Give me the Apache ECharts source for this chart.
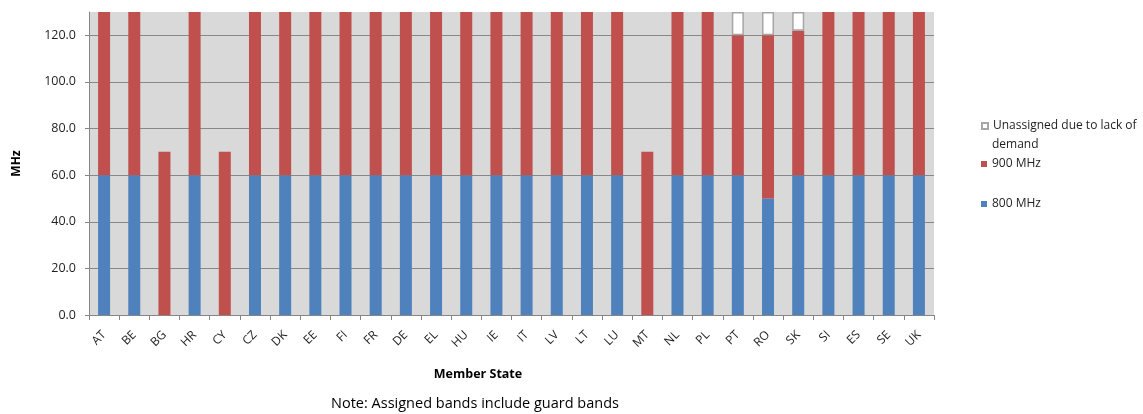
<!DOCTYPE html>
<html>
<head>
<meta charset="utf-8">
<script src="https://cdn.jsdelivr.net/npm/echarts@6/dist/echarts.min.js"></script>
<style>html,body{margin:0;padding:0;background:#fff;}#c{width:1143px;height:414px;}</style>
</head>
<body>
<div id="c"></div>
<script>
var categories = ['AT','BE','BG','HR','CY','CZ','DK','EE','FI','FR','DE','EL','HU','IE','IT','LV','LT','LU','MT','NL','PL','PT','RO','SK','SI','ES','SE','UK'];
var mhz800 = [60,60,0,60,0,60,60,60,60,60,60,60,60,60,60,60,60,60,0,60,60,60,50,60,60,60,60,60];
var mhz900 = [70,70,70,70,70,70,70,70,70,70,70,70,70,70,70,70,70,70,70,70,70,60,70,62,70,70,70,70];
var unassigned = [0,0,0,0,0,0,0,0,0,0,0,0,0,0,0,0,0,0,0,0,0,10,10,8,0,0,0,0];
var yTicks = {min: 0, max: 130, interval: 20};

function nz(arr){ return arr.map(function(v){ return v === 0 ? '-' : v; }); }

var FONT = '"Open Sans", "Liberation Sans", sans-serif';
var chart = echarts.init(document.getElementById('c'));
var legendCommon = {
  orient: 'vertical', left: 981, padding: 0, itemWidth: 6, itemHeight: 6, itemGap: 0,
  icon: 'rect', selectedMode: false,
  textStyle: {fontFamily: FONT, fontSize: 12, color: '#1f1f1f'}
};
chart.setOption({
  animation: false,
  grid: {left: 89, right: 209, top: 12, bottom: 99, show: true, backgroundColor: '#d9d9d9', borderWidth: 0},
  legend: [
    Object.assign({}, legendCommon, {top: 120, data: ['Unassigned due to lack of demand'],
      formatter: function(){ return 'Unassigned due to lack of'; }}),
    Object.assign({}, legendCommon, {top: 158, data: ['900 MHz']}),
    Object.assign({}, legendCommon, {top: 198, data: ['800 MHz']})
  ],
  graphic: [
    {type: 'text', left: 992, top: 139, style: {text: 'demand', font: '12px ' + FONT, fill: '#1f1f1f'}},
    {type: 'text', x: 478, y: 374, style: {text: 'Member State', font: 'bold 12.5px ' + FONT, fill: '#000', textAlign: 'center', textVerticalAlign: 'middle'}},
    {type: 'text', x: 475, y: 404, style: {text: 'Note: Assigned bands include guard bands', font: '14.5px ' + FONT, fill: '#000', textAlign: 'center', textVerticalAlign: 'middle'}}
  ],
  xAxis: {
    type: 'category', data: categories,
    axisLine: {lineStyle: {color: '#868686', width: 1}},
    axisTick: {show: true, length: 5, lineStyle: {color: '#868686'}},
    axisLabel: {rotate: 45, fontFamily: FONT, fontSize: 12, color: '#1f1f1f', margin: 18, interval: 0}
  },
  yAxis: {
    type: 'value', min: yTicks.min, max: yTicks.max, interval: yTicks.interval,
    name: 'MHz', nameLocation: 'middle', nameGap: 66,
    nameTextStyle: {fontFamily: FONT, fontSize: 12, fontWeight: 'bold', color: '#000'},
    axisLine: {show: true, lineStyle: {color: '#868686', width: 1}},
    axisTick: {show: true, length: 4, lineStyle: {color: '#868686'}},
    axisLabel: {fontFamily: FONT, fontSize: 12.5, color: '#1f1f1f', margin: 13, showMaxLabel: false,
      formatter: function(v){ return v.toFixed(1); }},
    splitLine: {show: true, showMaxLine: false, lineStyle: {color: '#888888', width: 1}}
  },
  series: [
    {name: '800 MHz', type: 'bar', stack: 's', data: nz(mhz800), barWidth: 12, itemStyle: {color: '#4f81bd'}},
    {name: '900 MHz', type: 'bar', stack: 's', data: nz(mhz900), barWidth: 12, itemStyle: {color: '#c0504d'}},
    {name: 'Unassigned due to lack of demand', type: 'bar', stack: 's', data: nz(unassigned), barWidth: 12,
      itemStyle: {color: '#ffffff', borderColor: '#a6a6a6', borderWidth: 1.5}}
  ]
});
</script>
</body>
</html>
